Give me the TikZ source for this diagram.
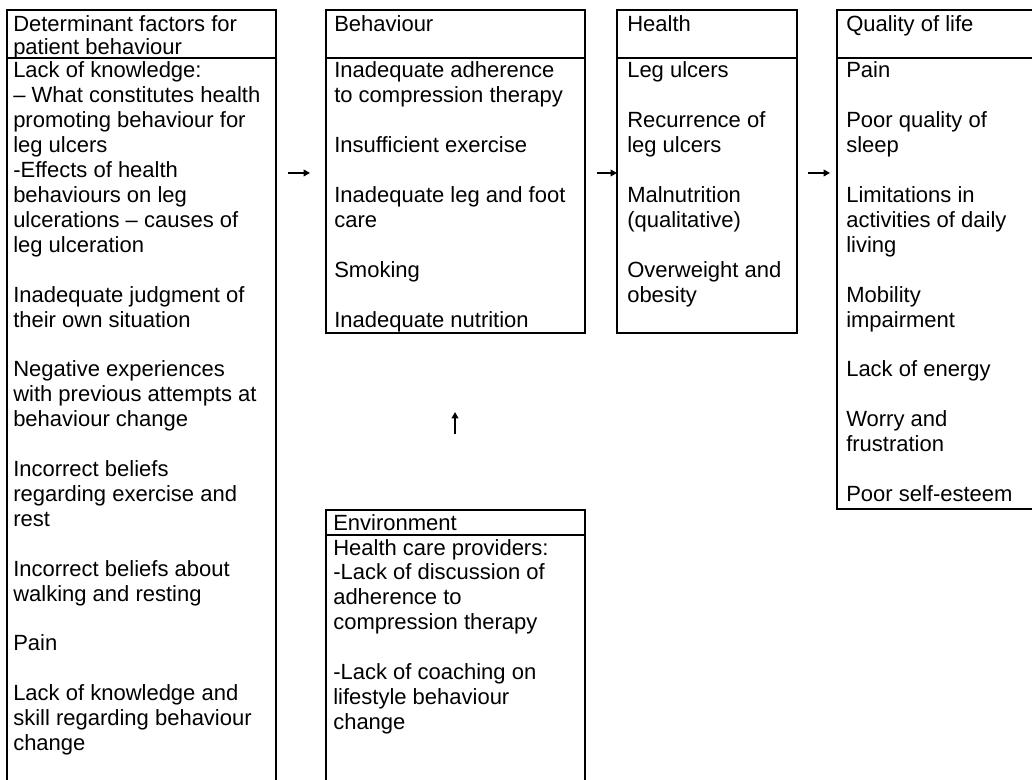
\documentclass[tikz,border=0pt]{standalone}
\usepackage{fontspec}
\setmainfont{Liberation Sans}
\usetikzlibrary{arrows.meta}
\newcommand{\bodyfont}{\fontsize{16.5pt}{18.68pt}\selectfont}
\newcommand{\headfont}{\fontsize{16.5pt}{16.6pt}\selectfont}
\tikzset{
  boxline/.style={line width=1.2pt, line join=miter, line cap=rect},
  txt/.style={anchor=base west, inner sep=0pt},
  flow/.style={line width=1.4pt, -{Triangle[length=4.8pt,width=5pt]}},
}
\begin{document}
\begin{tikzpicture}[x=0.75pt,y=-0.75pt]
\useasboundingbox (0,0) rectangle (1032,780);
\clip (0,0) rectangle (1032,780);
\fill[white] (0,0) rectangle (1032,780);

% Box 1: Determinant factors
\draw[boxline] (7,790) -- (7,10) -- (276,10) -- (276,790);
\draw[boxline] (7,58) -- (276,58);
% Behaviour
\draw[boxline] (326,10) rectangle (585,333);
\draw[boxline] (326,58) -- (585,58);
% Health
\draw[boxline] (617,10) rectangle (797,333);
\draw[boxline] (617,58) -- (797,58);
% Quality of life
\draw[boxline] (837,10) rectangle (1050,509);
\draw[boxline] (837,58) -- (1050,58);
% Environment
\draw[boxline] (326,790) -- (326,510) -- (585,510) -- (585,790);
\draw[boxline] (326,535) -- (585,535);

% Headers
\node[txt] (h1) at (13,32) {\parbox[t]{200pt}{\raggedright\headfont Determinant factors for\\patient behaviour}};
\node[txt] (h2) at (334,32) {\headfont Behaviour};
\node[txt] (h3) at (627,32) {\headfont Health};
\node[txt] (h4) at (846,32) {\headfont Quality of life};
\node[txt] (h5) at (333,530) {\headfont Environment};

% Bodies
\node[txt] (b1) at (13,78) {\parbox[t]{200pt}{\raggedright\bodyfont
Lack of knowledge:\\
– What constitutes health\\
promoting behaviour for\\
leg ulcers\\
-Effects of health\\
behaviours on leg\\
ulcerations – causes of\\
leg ulceration\\
\mbox{}\\
Inadequate judgment of\\
their own situation\\
\mbox{}\\
Negative experiences\\
with previous attempts at\\
behaviour change\\
\mbox{}\\
Incorrect beliefs\\
regarding exercise and\\
rest\\
\mbox{}\\
Incorrect beliefs about\\
walking and resting\\
\mbox{}\\
Pain\\
\mbox{}\\
Lack of knowledge and\\
skill regarding behaviour\\
change}};

\node[txt] (b2) at (334,78) {\parbox[t]{200pt}{\raggedright\bodyfont
Inadequate adherence\\
to compression therapy\\
\mbox{}\\
Insufficient exercise\\
\mbox{}\\
Inadequate leg and foot\\
care\\
\mbox{}\\
Smoking\\
\mbox{}\\
Inadequate nutrition}};

\node[txt] (b3) at (627,78) {\parbox[t]{150pt}{\raggedright\bodyfont
Leg ulcers\\
\mbox{}\\
Recurrence of\\
leg ulcers\\
\mbox{}\\
Malnutrition\\
(qualitative)\\
\mbox{}\\
Overweight and\\
obesity}};

\node[txt] (b4) at (846,78) {\parbox[t]{150pt}{\raggedright\bodyfont
Pain\\
\mbox{}\\
Poor quality of\\
sleep\\
\mbox{}\\
Limitations in\\
activities of daily\\
living\\
\mbox{}\\
Mobility\\
impairment\\
\mbox{}\\
Lack of energy\\
\mbox{}\\
Worry and\\
frustration\\
\mbox{}\\
Poor self-esteem}};

\node[txt] (b5) at (333,555) {\parbox[t]{200pt}{\raggedright\bodyfont
Health care providers:\\
-Lack of discussion of\\
adherence to\\
compression therapy\\
\mbox{}\\
-Lack of coaching on\\
lifestyle behaviour\\
change}};

% Arrows
\coordinate (a1s) at (288,173); \coordinate (a1e) at (310,173);
\coordinate (a2s) at (597,173); \coordinate (a2e) at (617,173);
\coordinate (a3s) at (808,173); \coordinate (a3e) at (830,173);
\coordinate (a4s) at (455,434); \coordinate (a4e) at (455,412);
\draw[flow] (a1s) -- (a1e);
\draw[flow] (a2s) -- (a2e);
\draw[flow] (a3s) -- (a3e);
\draw[flow] (a4s) -- (a4e);
\end{tikzpicture}
\end{document}
